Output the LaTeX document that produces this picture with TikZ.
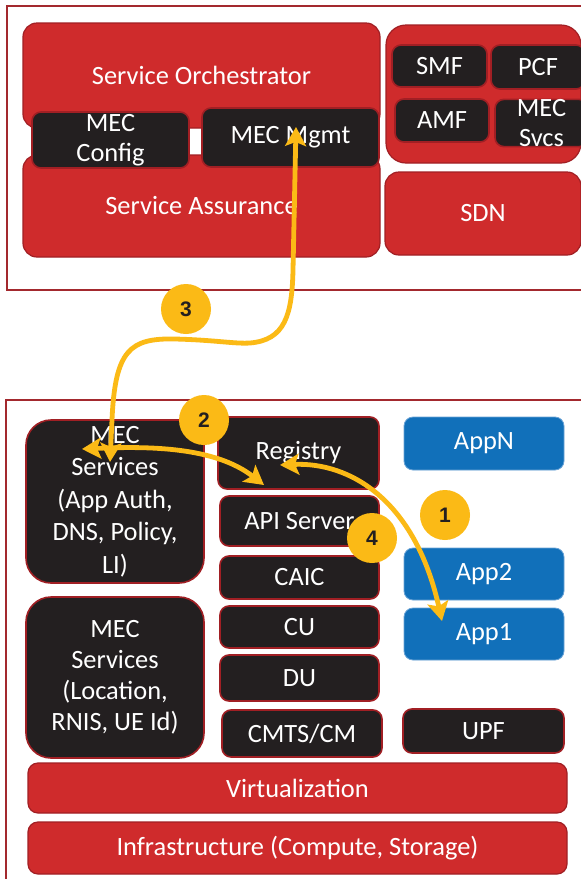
\documentclass[tikz,border=0pt]{standalone}
\usepackage{fontspec}
\setmainfont{Carlito}
\newfontfamily\badgefont{Liberation Sans}
\usetikzlibrary{arrows.meta}

\definecolor{mecred}{HTML}{CF2B2C}
\definecolor{redline}{HTML}{A11F24}
\definecolor{mecblack}{HTML}{231F20}
\definecolor{mecblue}{HTML}{1170BA}
\definecolor{blueline}{HTML}{6AA3D6}
\definecolor{frameline}{HTML}{A3292E}
\definecolor{flowyellow}{HTML}{FBBA16}

% box from corner (x1,y1) to corner (x2,y2): name, style, x1, y1, x2, y2, text
\newcommand\boxat[7]{%
  \node[#2, minimum width={(#5)-(#3)}, minimum height={(#6)-(#4)}]
    (#1) at ({((#3)+(#5))/2},{((#4)+(#6))/2}) {#7};}

\begin{document}
\begin{tikzpicture}[x=1pt,y=-1pt,
  label text/.style={text=white, font=\fontsize{26.4}{31}\selectfont, align=center, inner sep=0pt},
  redbox/.style={label text, fill=mecred, draw=redline, line width=1.2pt, rounded corners=12pt},
  darkbox/.style={label text, fill=mecblack, draw=redline, line width=1.6pt, rounded corners=9pt},
  bluebox/.style={label text, fill=mecblue, draw=blueline, line width=0.8pt, rounded corners=9pt},
  frame/.style={draw=frameline, line width=1.5pt, inner sep=0pt},
  flow/.style={draw=flowyellow, line width=4.8pt,
    {Stealth[length=19pt,width=21pt,inset=4pt]}-{Stealth[length=19pt,width=21pt,inset=4pt]}},
  badge/.style={circle, fill=flowyellow, minimum size=50pt, inner sep=0pt,
    font=\badgefont\bfseries\fontsize{21}{21}\selectfont, text=mecblack}
]
\useasboundingbox (0,0) rectangle (581,879);
\clip (0,0) rectangle (581,879);
\fill[white] (0,0) rectangle (581,879);

% management domain
\boxat{mgmtframe}{frame}{7}{6}{610}{290}{}
\boxat{orch}{redbox, rounded corners=14pt}{23}{23}{380}{128}{Service Orchestrator}
\boxat{assur}{redbox, rounded corners=14pt}{23}{155}{380}{257}{Service Assurance}
\boxat{mecconfig}{darkbox, font=\fontsize{26.4}{30}\selectfont}{32}{112}{189}{168}{MEC\\Config}
\boxat{mecmgmt}{darkbox}{202}{108}{379}{167}{MEC Mgmt}
\boxat{core}{redbox, rounded corners=20pt}{386}{25}{581}{163}{}
\boxat{smf}{darkbox}{392}{45}{487}{87}{SMF}
\boxat{pcf}{darkbox}{491}{45}{585}{89}{PCF}
\boxat{amf}{darkbox}{395}{99}{489}{142}{AMF}
\boxat{mecsvcs}{darkbox, font=\fontsize{26.4}{30}\selectfont}{495}{101}{588}{145}{MEC\\Svcs}
\boxat{sdn}{redbox, rounded corners=14pt}{385}{172}{581}{255}{SDN}

% edge host
\boxat{edgeframe}{frame}{6}{400}{610}{900}{}
\boxat{mecsvcA}{darkbox, rounded corners=25pt, font=\fontsize{26.4}{32.5}\selectfont}{26}{420}{204}{583}{MEC\\Services\\(App Auth,\\DNS, Policy,\\LI)}
\boxat{mecsvcB}{darkbox, rounded corners=25pt, font=\fontsize{26.4}{31}\selectfont}{26}{597}{204}{758}{MEC\\Services\\(Location,\\RNIS, UE Id)}
\boxat{registry}{darkbox}{218}{417}{379}{489}{Registry}
\boxat{api}{darkbox}{220}{496}{379}{546}{API Server}
\boxat{caic}{darkbox}{220}{556}{379}{599}{CAIC}
\boxat{cu}{darkbox}{220}{606}{379}{648}{CU}
\boxat{du}{darkbox}{220}{655}{379}{701}{DU}
\boxat{cmts}{darkbox}{222}{710}{382}{757}{CMTS/CM}
\boxat{upf}{darkbox}{403}{709}{564}{753}{UPF}
\boxat{appN}{bluebox}{404}{417}{564}{470}{AppN}
\boxat{app2}{bluebox}{404}{548}{564}{600}{App2}
\boxat{app1}{bluebox}{404}{608}{564}{660}{App1}
\boxat{virt}{redbox, rounded corners=10pt}{28}{763}{567}{813}{Virtualization}
\boxat{infra}{redbox, rounded corners=10pt}{28}{822}{567}{874}{Infrastructure (Compute, Storage)}

% arrow end points inside the boxes
\coordinate (mgmtTip) at (296,127);
\coordinate (svcTipDown) at (110,462);
\coordinate (svcTipLeft) at (82,449);
\coordinate (apiTip) at (264,485);
\coordinate (regTip) at (280,465);
\coordinate (app1Tip) at (442,621);

% flows
\draw[flow] (svcTipDown) -- (112,420)
  .. controls (115,350) and (130,338) .. (175,339)
  .. controls (215,340) and (235,344) .. (250,343)
  .. controls (285,340) and (292,315) .. (293,270) -- (mgmtTip);
\draw[flow] (svcTipLeft) .. controls (150,446) and (215,447) .. (apiTip);
\draw[flow] (regTip) .. controls (350,462) and (415,500) .. (app1Tip);

% step numbers
\node[badge] (step1) at (445,515) {1};
\node[badge] (step2) at (204,420) {2};
\node[badge] (step3) at (186,309) {3};
\node[badge] (step4) at (372,538) {4};
\end{tikzpicture}
\end{document}
